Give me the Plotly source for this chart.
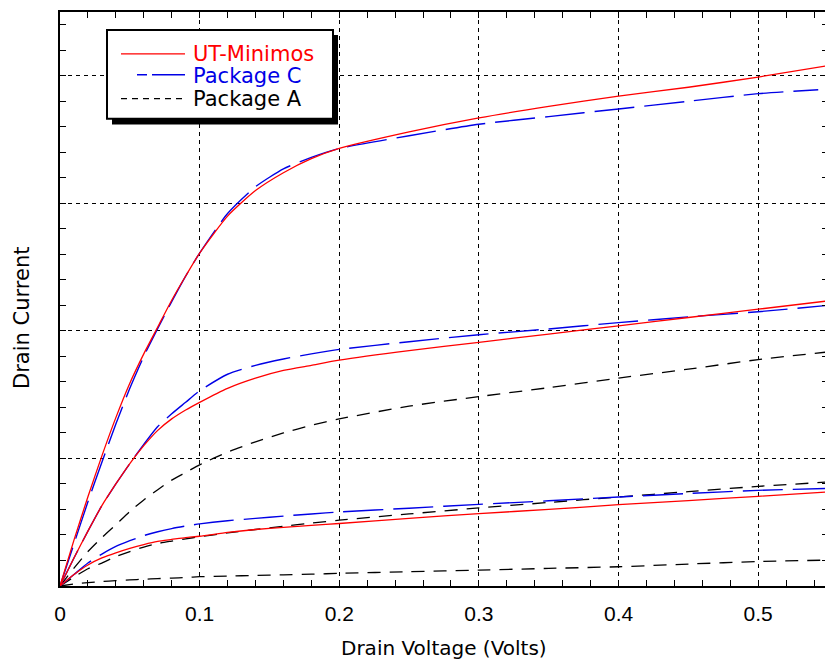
import plotly.graph_objects as go

# Drain voltage samples (Volts)
V = [0, 0.01, 0.02, 0.03, 0.04, 0.05, 0.06, 0.07, 0.08, 0.09, 0.1, 0.12, 0.14,
     0.16, 0.18, 0.2, 0.25, 0.3, 0.35, 0.4, 0.45, 0.5, 0.55]
V_C_TOP = V[:-1] + [0.543]

# UT-Minimos (red)
ut_high = [0, 0.36, 0.70, 1.02, 1.32, 1.59, 1.82, 2.03, 2.24, 2.43, 2.61, 2.90, 3.10,
           3.24, 3.35, 3.43, 3.56, 3.67, 3.76, 3.84, 3.91, 3.99, 4.08]
ut_mid = [0, 0.22, 0.43, 0.63, 0.80, 0.96, 1.10, 1.22, 1.31, 1.38, 1.44, 1.55, 1.63,
          1.69, 1.73, 1.77, 1.845, 1.91, 1.975, 2.04, 2.105, 2.17, 2.235]
ut_low = [0, 0.09, 0.165, 0.22, 0.26, 0.295, 0.325, 0.35, 0.365, 0.38, 0.39, 0.42, 0.443,
          0.46, 0.475, 0.49, 0.53, 0.568, 0.60, 0.638, 0.67, 0.703, 0.737]

# Package C (blue)
pc_high = [0, 0.33, 0.66, 0.97, 1.27, 1.55, 1.80, 2.02, 2.23, 2.43, 2.61, 2.92, 3.13,
           3.27, 3.36, 3.43, 3.53, 3.62, 3.68, 3.74, 3.80, 3.86, 3.89]
pc_mid = [0, 0.22, 0.43, 0.63, 0.80, 0.96, 1.11, 1.25, 1.35, 1.44, 1.53, 1.66, 1.73,
          1.78, 1.82, 1.855, 1.915, 1.97, 2.015, 2.065, 2.11, 2.15, 2.20]
pc_low = [0, 0.09, 0.18, 0.25, 0.31, 0.355, 0.395, 0.425, 0.45, 0.47, 0.487, 0.512, 0.53,
          0.548, 0.565, 0.58, 0.61, 0.64, 0.668, 0.698, 0.725, 0.75, 0.765]

# Package A (black)
pa_high = [0, 0.14, 0.27, 0.38, 0.48, 0.585, 0.675, 0.755, 0.83, 0.89, 0.95, 1.05, 1.13,
           1.20, 1.26, 1.31, 1.41, 1.485, 1.555, 1.63, 1.70, 1.775, 1.835]
pa_mid = [0, 0.07, 0.135, 0.18, 0.23, 0.27, 0.305, 0.333, 0.352, 0.37, 0.386, 0.416, 0.443,
          0.468, 0.493, 0.516, 0.565, 0.612, 0.655, 0.698, 0.74, 0.781, 0.815]
pa_low = [0, 0.015, 0.027, 0.035, 0.042, 0.048, 0.053, 0.058, 0.062, 0.067, 0.073, 0.078, 0.083,
          0.088, 0.093, 0.099, 0.112, 0.125, 0.138, 0.151, 0.172, 0.192, 0.203]

X_TICKS = [0, 0.1, 0.2, 0.3, 0.4, 0.5]
X_TICK_TEXT = ["0", "0.1", "0.2", "0.3", "0.4", "0.5"]

RED = "#ff0000"
BLUE = "#0000e6"
BLACK = "#000000"
FONT = "Liberation Sans, Arial, sans-serif"
TFONT = "DejaVu Sans, Liberation Sans, sans-serif"

fig = go.Figure()

black_line = dict(color=BLACK, width=1.3, dash="13px,9px")
blue_line = dict(color=BLUE, width=1.4, dash="40px,10px")
red_line = dict(color=RED, width=1.3)

for ys in (pa_high, pa_mid, pa_low):
    fig.add_trace(go.Scatter(x=V, y=ys, mode="lines", line=dict(black_line, shape="spline", smoothing=0.6),
                             name="Package A", showlegend=False))
for xs, ys in ((V_C_TOP, pc_high), (V, pc_mid), (V, pc_low)):
    fig.add_trace(go.Scatter(x=xs, y=ys, mode="lines", line=dict(blue_line, shape="spline", smoothing=0.6),
                             name="Package C", showlegend=False))
for ys in (ut_high, ut_mid, ut_low):
    fig.add_trace(go.Scatter(x=V, y=ys, mode="lines", line=dict(red_line, shape="spline", smoothing=0.6),
                             name="UT-Minimos", showlegend=False))

# page offset (browser body margin) and figure size
OFF = 8
W, H = 833 - OFF, 666 - OFF
# plot area in window pixels
L, R, T, B = 60, 828, 10, 586
def px(xp):
    return (xp - L) / (R - L)
def py(yp):
    return (B - yp) / (B - T)

shapes = []
# legend shadow + box
shapes.append(dict(type="rect", xref="paper", yref="paper", x0=px(112), x1=px(338), y0=py(123), y1=py(33),
                   fillcolor=BLACK, line=dict(color=BLACK, width=0), layer="above"))
shapes.append(dict(type="rect", xref="paper", yref="paper", x0=px(107), x1=px(333), y0=py(117), y1=py(28),
                   fillcolor="white", line=dict(color=BLACK, width=2), layer="above"))
# legend samples
shapes.append(dict(type="line", xref="paper", yref="paper", x0=px(121), x1=px(185), y0=py(52), y1=py(52),
                   line=dict(color=RED, width=1.3), layer="above"))
shapes.append(dict(type="line", xref="paper", yref="paper", x0=px(137), x1=px(185), y0=py(73), y1=py(73),
                   line=dict(color=BLUE, width=1.4, dash="10px,5px,33px,5px"), layer="above"))
shapes.append(dict(type="line", xref="paper", yref="paper", x0=px(121), x1=px(185), y0=py(97), y1=py(97),
                   line=dict(color=BLACK, width=1.3, dash="6px,5px"), layer="above"))

annotations = [
    dict(text="UT-Minimos", xref="paper", yref="paper", x=px(191), y=py(52), xanchor="left", yanchor="middle",
         showarrow=False, font=dict(family=TFONT, size=21, color=RED)),
    dict(text="Package C", xref="paper", yref="paper", x=px(191), y=py(74), xanchor="left", yanchor="middle",
         showarrow=False, font=dict(family=TFONT, size=21, color=BLUE)),
    dict(text="Package A", xref="paper", yref="paper", x=px(191), y=py(97), xanchor="left", yanchor="middle",
         showarrow=False, font=dict(family=TFONT, size=21, color=BLACK)),
    dict(text="Drain Voltage (Volts)", xref="paper", yref="paper", x=0.5, y=py(648), xanchor="center",
         yanchor="middle", showarrow=False, font=dict(family=TFONT, size=20, color=BLACK)),
    dict(text="Drain Current", xref="paper", yref="paper", x=px(22), y=py(317), xanchor="center",
         yanchor="middle", textangle=-90, showarrow=False, font=dict(family=TFONT, size=21, color=BLACK)),
]

fig.update_layout(
    width=W, height=H,
    margin=dict(l=L - OFF, r=833 - R, t=T - OFF, b=666 - B),
    paper_bgcolor="white", plot_bgcolor="white",
    showlegend=False,
    font=dict(family=FONT, size=21, color=BLACK),
    shapes=shapes, annotations=annotations,
)
fig.update_xaxes(
    range=[0, 0.55], tickvals=X_TICKS, ticktext=X_TICK_TEXT,
    showline=True, linecolor=BLACK, linewidth=1.5, mirror="ticks",
    ticks="inside", ticklen=6, tickcolor=BLACK, tickwidth=1,
    showgrid=True, gridcolor=BLACK, gridwidth=1, griddash="4px,4px",
    zeroline=False, ticklabelstandoff=8,
    tickfont=dict(family=FONT, size=21, color=BLACK),
    minor=dict(dtick=0.02, tick0=0, ticks="inside", ticklen=6, tickcolor=BLACK, showgrid=False),
)
fig.update_yaxes(
    range=[0, 4.5], dtick=1, tick0=0, showticklabels=False,
    showline=True, linecolor=BLACK, linewidth=1.5, mirror="ticks",
    ticks="inside", ticklen=6, tickcolor=BLACK, tickwidth=1,
    showgrid=True, gridcolor=BLACK, gridwidth=1, griddash="4px,4px",
    zeroline=False,
    minor=dict(dtick=0.2, tick0=0, ticks="inside", ticklen=6, tickcolor=BLACK, showgrid=False),
)

fig.write_html("out.html")
